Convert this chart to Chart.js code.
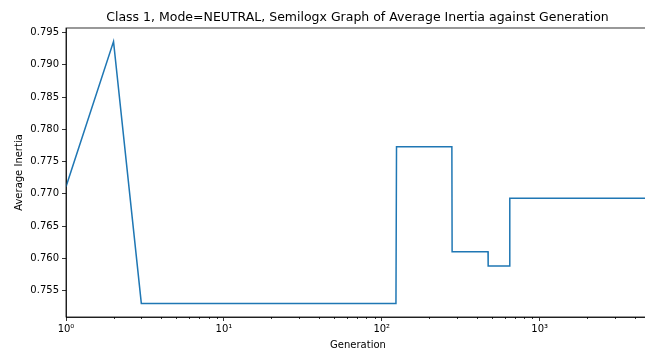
<!DOCTYPE html>
<html>
<head>
<meta charset="utf-8">
<script src="https://cdn.jsdelivr.net/npm/chart.js@4/dist/chart.umd.min.js"></script>
<style>
  html, body { margin:0; padding:0; overflow:hidden; background:#fff; }
  canvas { display:block; }
</style>
</head>
<body>
<canvas id="chart" width="715" height="351"></canvas>
<script>
// generations where the average inertia changes (steps are one generation wide)
const generations = [1, 2, 3, 123, 124, 278, 279, 471, 472, 646, 647, 5000];
const avgInertia = [0.7711, 0.7936, 0.7530, 0.7530, 0.7773, 0.7773, 0.7610, 0.7610, 0.7588, 0.7588, 0.7693, 0.7693];

const xDecades = [1, 10, 100, 1000];
const xTickLabels = ['10⁰', '10¹', '10²', '10³'];
const yTicks = [0.755, 0.760, 0.765, 0.770, 0.775, 0.780, 0.785, 0.790, 0.795];

const FONT = 'DejaVu Sans';
const INK = '#000';

// every 1..9 x 10^k between the axis limits; only powers of ten get labels
function logTicks(min, max) {
  const out = [];
  for (let d = 1; d <= max; d *= 10)
    for (let m = 1; m <= 9; m++) {
      const v = m * d;
      if (v >= min && v <= max) out.push({value: v, major: m === 1});
    }
  return out;
}

// title spans the whole canvas; spines and short minor ticks under the log axis
const frame = {
  id: 'frame',
  afterLayout(chart) {
    const t = chart.titleBlock;
    if (t) { t.left = 0; t.right = chart.width; t.width = chart.width; }
  },
  afterDraw(chart) {
    const {ctx, chartArea: a, scales: {x}} = chart;
    ctx.save();
    ctx.strokeStyle = INK;
    ctx.lineWidth = 0.8;
    ctx.strokeRect(a.left, a.top, a.right - a.left, a.bottom - a.top);
    ctx.beginPath();
    x.ticks.forEach(t => {
      if (t.major) return;
      const px = Math.round(x.getPixelForValue(t.value)) + 0.5;
      ctx.moveTo(px, a.bottom);
      ctx.lineTo(px, a.bottom + 2);
    });
    ctx.stroke();
    ctx.restore();
  }
};

new Chart(document.getElementById('chart'), {
  type: 'line',
  data: {
    datasets: [{
      data: generations.map((g, i) => ({x: g, y: avgInertia[i]})),
      borderColor: '#1f77b4',
      borderWidth: 1.5,
      pointRadius: 0,
      tension: 0,
      fill: false
    }]
  },
  options: {
    responsive: false,
    devicePixelRatio: 1,
    animation: false,
    layout: {padding: {left: 0, right: 65, top: 0, bottom: 0}},
    plugins: {
      legend: {display: false},
      tooltip: {enabled: false},
      title: {
        display: true,
        text: 'Class 1, Mode=NEUTRAL, Semilogx Graph of Average Inertia against Generation',
        color: INK,
        font: {family: FONT, size: 12.5, weight: 'normal'},
        padding: {top: 10.5, bottom: 2.5}
      }
    },
    scales: {
      x: {
        type: 'logarithmic',
        min: 1,
        max: 5000,
        afterBuildTicks: s => { s.ticks = logTicks(s.min, s.max); },
        afterFit: s => { s.height = 34; },
        ticks: {
          autoSkip: false,
          maxRotation: 0,
          padding: 2,
          color: INK,
          font: {family: FONT, size: 10},
          callback: v => {
            const i = xDecades.indexOf(v);
            return i >= 0 ? xTickLabels[i] : '';
          }
        },
        grid: {
          drawOnChartArea: false,
          drawTicks: true,
          tickLength: 4,
          tickWidth: 0.8,
          tickColor: c => (c.tick && c.tick.major) ? INK : 'rgba(0,0,0,0)'
        },
        border: {display: true, color: INK, width: 0.8},
        title: {
          display: true,
          text: 'Generation',
          color: INK,
          font: {family: FONT, size: 10},
          padding: {top: 0, bottom: 0}
        }
      },
      y: {
        min: 0.7509,
        max: 0.7957,
        afterBuildTicks: s => { s.ticks = yTicks.map(v => ({value: v})); },
        afterFit: s => { s.width = 66; },
        ticks: {
          padding: 3,
          color: INK,
          font: {family: FONT, size: 10},
          callback: v => v.toFixed(3)
        },
        grid: {
          drawOnChartArea: false,
          drawTicks: true,
          tickLength: 4,
          tickWidth: 0.8,
          tickColor: INK
        },
        border: {display: true, color: INK, width: 0.8},
        title: {
          display: true,
          text: 'Average Inertia',
          color: INK,
          font: {family: FONT, size: 10},
          padding: {top: 13, bottom: 0}
        }
      }
    }
  },
  plugins: [frame]
});
</script>
</body>
</html>
